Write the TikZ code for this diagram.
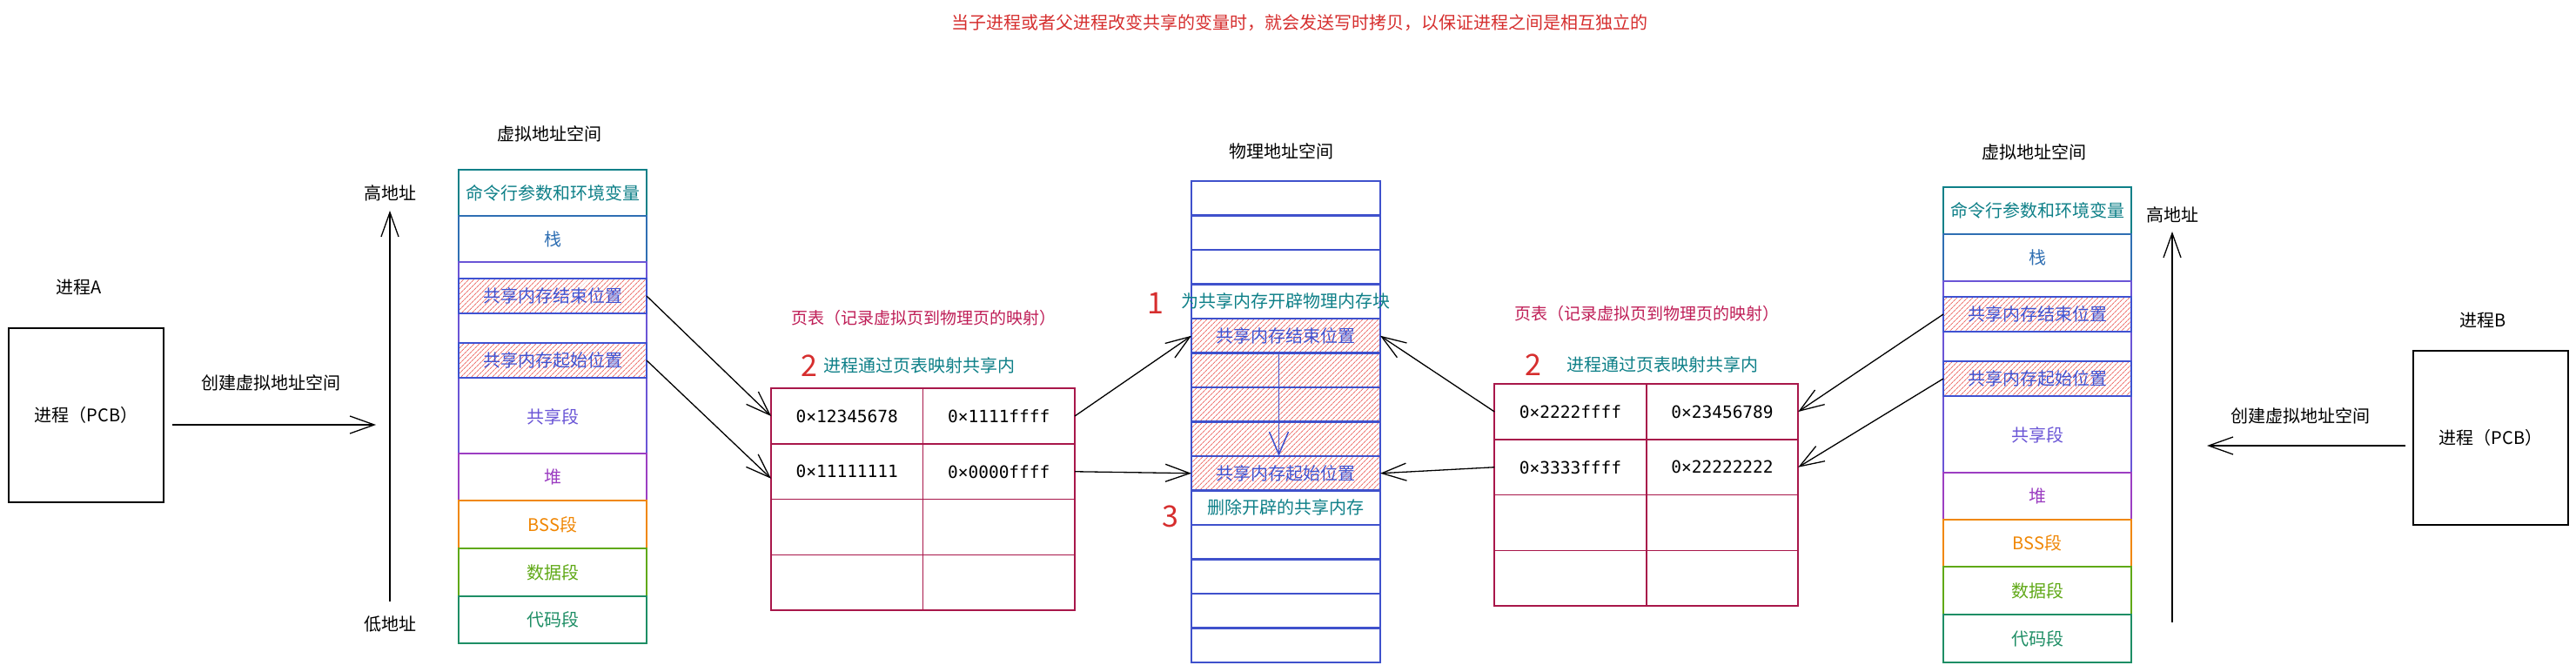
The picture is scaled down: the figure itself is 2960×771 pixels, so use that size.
\documentclass[tikz,border=0pt]{standalone}
\usepackage{fontspec}
\setmainfont{Noto Sans CJK SC}
\newfontfamily\hexfont{DejaVu Sans Mono}
\usetikzlibrary{positioning,arrows.meta,patterns.meta}

\definecolor{cmdc}{HTML}{0E8088}
\definecolor{stackc}{HTML}{2F6FB3}
\definecolor{sharec}{HTML}{6A55D6}
\definecolor{heapc}{HTML}{9C3EC2}
\definecolor{bssc}{HTML}{F08705}
\definecolor{datac}{HTML}{60A917}
\definecolor{codec}{HTML}{1E8E65}
\definecolor{hatchblue}{HTML}{3F52D2}
\definecolor{hatchred}{HTML}{EE7470}
\definecolor{tabc}{HTML}{A8174A}
\definecolor{tablbl}{HTML}{BF1E57}
\definecolor{physc}{HTML}{3F51CC}
\definecolor{stepred}{HTML}{D62E2E}
\definecolor{notec}{HTML}{0E8088}

\newcommand{\cellfont}{\fontsize{20pt}{24pt}\selectfont}
\newcommand{\numfont}{\fontsize{34pt}{40pt}\selectfont}
\newcommand{\hexsize}{\hexfont\fontsize{19.5pt}{24pt}\selectfont}

\begin{document}
\begin{tikzpicture}[
  x=1pt, y=-1pt,
  seg/.style={rectangle, draw, line width=1.6pt, minimum width=216pt, inner sep=0pt, outer sep=0pt, font=\cellfont},
  hatch/.style={seg, draw=hatchblue, text=hatchblue, minimum height=40pt, pattern={Lines[angle=45,distance=4pt,line width=1pt]}, pattern color=hatchred},
  tab/.style={rectangle, draw=tabc, line width=1.6pt, minimum width=174.5pt, minimum height=63.75pt, inner sep=0pt, outer sep=0pt, font=\hexsize},
  phys/.style={rectangle, draw=physc, line width=2.2pt, minimum width=217pt, minimum height=39.5pt, inner sep=0pt, outer sep=0pt},
  physhatch/.style={phys, pattern={Lines[angle=45,distance=4pt,line width=1pt]}, pattern color=hatchred},
  proc/.style={rectangle, draw, line width=1.5pt, minimum width=178pt, minimum height=200pt, font=\cellfont},
  lbl/.style={font=\cellfont, inner sep=0pt},
  num/.style={font=\numfont, text=stepred, inner sep=0pt},
  arr/.style={-{Straight Barb[length=28pt,width=20pt]}, line width=1.3pt}
]
  \useasboundingbox (0,0) rectangle (2960,771);
  \fill[white] (0,0) rectangle (2960,771);

  \node[lbl, text=stepred] (note) at (1493,26) {当子进程或者父进程改变共享的变量时，就会发送写时拷贝，以保证进程之间是相互独立的};

  % process A
  \node[lbl] (nameA) at (91,330) {进程A};
  \node[proc] (procA) at (99,477) {进程（PCB）};
  \coordinate (mkA) at (432,488);
  \draw[arr] ([xshift=9pt,yshift=-11pt]procA.east) -- (mkA);
  \node[lbl] (mkAtxt) at (311,440) {创建虚拟地址空间};

  \coordinate (lowA) at (448,691);
  \coordinate (highA) at (448,242);
  \draw[arr] (lowA) -- (highA);
  \node[lbl] (hiA) at (448,222) {高地址};
  \node[lbl] (loA) at (448,717) {低地址};

  % virtual address space A
  \node[lbl] (titleA) at (631,154) {虚拟地址空间};
  \node[seg, draw=cmdc, text=cmdc, minimum height=53pt] (cmdA) at (635,221.5) {命令行参数和环境变量};
  \node[seg, draw=stackc, text=stackc, minimum height=53pt, below=0pt of cmdA] (stackA) {栈};
  \node[seg, draw=sharec, minimum height=220pt, below=0pt of stackA] (shareA) {};
  \node[seg, draw=heapc, text=heapc, minimum height=54pt, below=0pt of shareA] (heapA) {堆};
  \node[seg, draw=bssc, text=bssc, minimum height=55pt, below=0pt of heapA] (bssA) {BSS段};
  \node[seg, draw=datac, text=datac, minimum height=55pt, below=0pt of bssA] (dataA) {数据段};
  \node[seg, draw=codec, text=codec, minimum height=54pt, below=0pt of dataA] (codeA) {代码段};
  \node[hatch] (endA) at (635,340) {共享内存结束位置};
  \node[hatch] (startA) at (635,414) {共享内存起始位置};
  \node[lbl, text=sharec] (shareAtxt) at ([yshift=42pt]shareA.south) {共享段};

  % page table A
  \node[lbl, text=tablbl, font=\fontsize{19pt}{24pt}\selectfont] (tabAtitle) at (1061,365) {页表（记录虚拟页到物理页的映射）};
  \node[num] (twoA) at (930,420) {2};
  \node[lbl, text=notec, anchor=west] (tabAnote) at (946,420) {进程通过页表映射共享内};
  \node[tab] (tA11) at (973.25,478) {0×12345678};
  \node[tab, right=0pt of tA11] (tA12) {0×1111ffff};
  \node[tab, below=0pt of tA11] (tA21) {0×11111111};
  \node[tab, right=0pt of tA21] (tA22) {0×0000ffff};
  \foreach \r/\p in {3/2,4/3} {
    \node[tab, below=0pt of tA\p1] (tA\r1) {};
    \node[tab, right=0pt of tA\r1] (tA\r2) {};
  }

  % physical memory
  \node[lbl] (physTitle) at (1472,174) {物理地址空间};
  \foreach \i/\st/\c/\t in {1/phys/physc/{}, 2/phys/physc/{}, 3/phys/physc/{},
      4/phys/notec/为共享内存开辟物理内存块, 5/physhatch/hatchblue/共享内存结束位置,
      6/physhatch/hatchblue/{}, 7/physhatch/hatchblue/{}, 8/physhatch/hatchblue/{},
      9/physhatch/hatchblue/共享内存起始位置, 10/phys/notec/删除开辟的共享内存,
      11/phys/physc/{}, 12/phys/physc/{}, 13/phys/physc/{}, 14/phys/physc/{}} {
    \node[\st] (ph\i) at (1477.5,{208+39.5*(\i-0.5)}) {};
    \node[lbl, text=\c] (pht\i) at (ph\i) {\t};
  }
  \node[num] (one) at (1328,348) {1};
  \node[num] (three) at (1345,593) {3};
  \draw[-{Straight Barb[length=26pt,width=22pt]}, physc, line width=1.5pt] ([xshift=-8pt]ph6.north) -- ([xshift=-8pt]ph9.north);

  % page table B
  \node[lbl, text=tablbl, font=\fontsize{19pt}{24pt}\selectfont] (tabBtitle) at (1892,360) {页表（记录虚拟页到物理页的映射）};
  \node[num] (twoB) at (1762,419) {2};
  \node[lbl, text=notec, anchor=west] (tabBnote) at (1800,419) {进程通过页表映射共享内};
  \node[tab] (tB11) at (1804.5,473) {0×2222ffff};
  \node[tab, right=0pt of tB11] (tB12) {0×23456789};
  \node[tab, below=0pt of tB11] (tB21) {0×3333ffff};
  \node[tab, right=0pt of tB21] (tB22) {0×22222222};
  \foreach \r/\p in {3/2,4/3} {
    \node[tab, below=0pt of tB\p1] (tB\r1) {};
    \node[tab, right=0pt of tB\r1] (tB\r2) {};
  }

  % virtual address space B
  \node[lbl] (titleB) at (2337,175) {虚拟地址空间};
  \node[seg, draw=cmdc, text=cmdc, minimum height=54pt] (cmdB) at (2341,242) {命令行参数和环境变量};
  \node[seg, draw=stackc, text=stackc, minimum height=54pt, below=0pt of cmdB] (stackB) {栈};
  \node[seg, draw=sharec, minimum height=220pt, below=0pt of stackB] (shareB) {};
  \node[seg, draw=heapc, text=heapc, minimum height=54pt, below=0pt of shareB] (heapB) {堆};
  \node[seg, draw=bssc, text=bssc, minimum height=54pt, below=0pt of heapB] (bssB) {BSS段};
  \node[seg, draw=datac, text=datac, minimum height=55pt, below=0pt of bssB] (dataB) {数据段};
  \node[seg, draw=codec, text=codec, minimum height=55pt, below=0pt of dataB] (codeB) {代码段};
  \node[hatch] (endB) at (2341,361) {共享内存结束位置};
  \node[hatch] (startB) at (2341,435) {共享内存起始位置};
  \node[lbl, text=sharec] (shareBtxt) at ([yshift=43pt]shareB.south) {共享段};

  \coordinate (lowB) at (2496,715);
  \coordinate (highB) at (2496,266);
  \draw[arr] (lowB) -- (highB);
  \node[lbl] (hiB) at (2496,247) {高地址};

  % process B
  \node[lbl] (nameB) at (2853,368) {进程B};
  \node[proc] (procB) at (2862,503) {进程（PCB）};
  \coordinate (mkB) at (2536,512);
  \draw[arr] ([xshift=-8pt,yshift=-9pt]procB.west) -- (mkB);
  \node[lbl] (mkBtxt) at (2643,478) {创建虚拟地址空间};

  % mappings
  \draw[arr] (endA.east) -- (tA11.west);
  \draw[arr] (startA.east) -- ([yshift=-8pt]tA21.west);
  \draw[arr] (tA12.east) -- (ph5.west);
  \draw[arr] (tA22.east) -- (ph9.west);
  \draw[arr] (tB11.west) -- (ph5.east);
  \draw[arr] (tB21.west) -- (ph9.east);
  \draw[arr] (endB.west) -- (tB12.east);
  \draw[arr] (startB.west) -- (tB22.east);
\end{tikzpicture}
\end{document}
